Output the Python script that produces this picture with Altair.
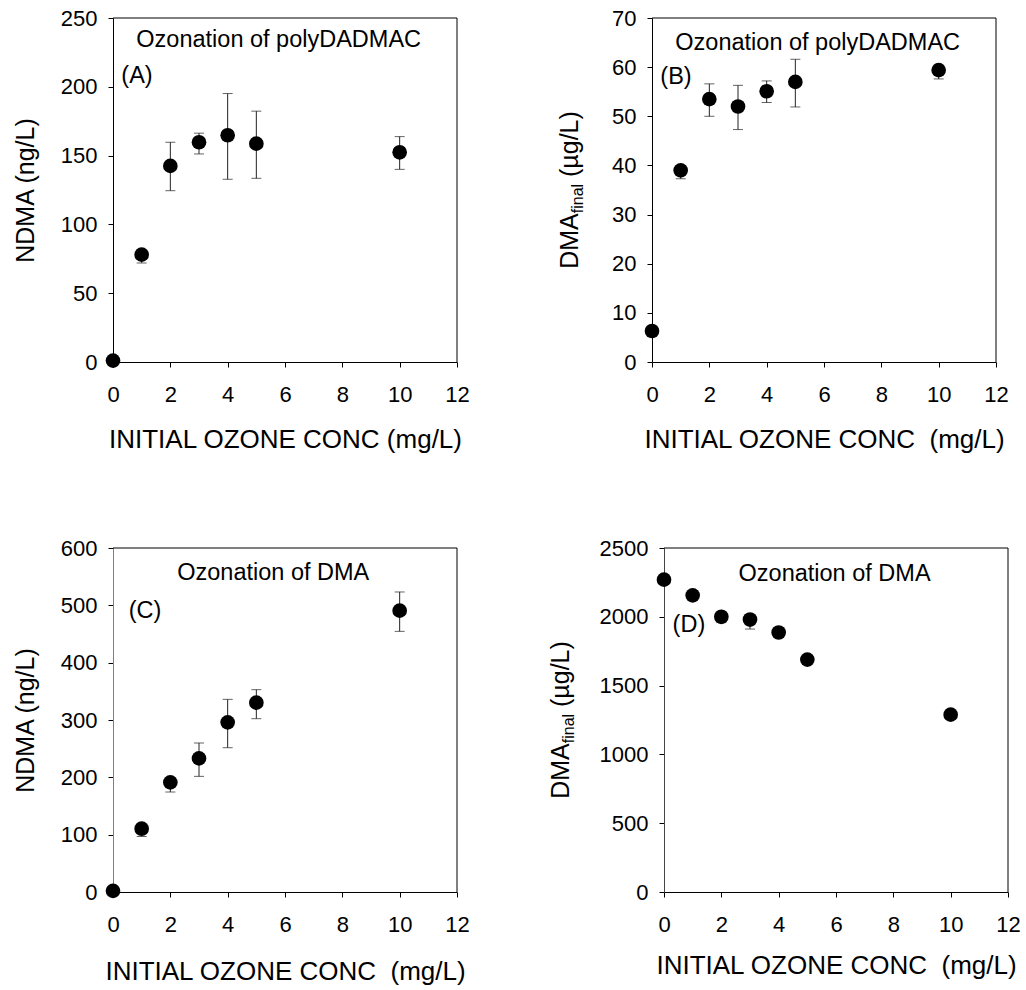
import altair as alt
import pandas as pd

FONT = "Liberation Sans"
W, H = 344, 344
ERR_COLOR = "#222222"

# Initial ozone dose (mg/L)
OZONE = [0, 1, 2, 3, 4, 5, 10]

# (A) NDMA formed during ozonation of polyDADMAC (ng/L)
A_MEAN = [1, 78, 142.5, 159.7, 164.8, 158.7, 152.4]
A_LOW = [None, 72, 124.5, 151.2, 132.8, 133.5, 140.0]
A_HIGH = [None, 80, 159.7, 166.3, 195.1, 182.3, 163.8]

# (B) DMA remaining after ozonation of polyDADMAC (ug/L)
B_MEAN = [6.3, 39.0, 53.5, 52.0, 55.1, 57.0, 59.4]
B_LOW = [None, 37.3, 50.0, 47.3, 52.8, 51.9, 57.6]
B_HIGH = [None, 40.0, 56.6, 56.3, 57.2, 61.6, 60.4]

# (C) NDMA formed during ozonation of DMA (ng/L)
C_MEAN = [2, 110.4, 191.2, 233.0, 295.9, 330.2, 490.7]
C_LOW = [None, 97, 174.4, 201.7, 251.7, 302.3, 454.6]
C_HIGH = [None, 115, 198.0, 259.9, 336.0, 352.9, 523.3]

# (D) DMA remaining after ozonation of DMA (ug/L)
D_MEAN = [2270, 2156, 2000, 1980, 1886, 1689, 1289]
D_LOW = [None, None, 1958, 1911, None, None, None]
D_HIGH = [None, None, 2030, 2000, None, None, None]

X_TICKS = [0, 2, 4, 6, 8, 10, 12]


def x_axis(title, title_y):
    return alt.Axis(
        values=X_TICKS, title=title, grid=False,
        tickSize=5, tickColor="black", domainColor="black",
        labelFont=FONT, labelFontSize=22, labelColor="black",
        labelPadding=17, labelFlush=False, labelOverlap=False,
        titleFont=FONT, titleFontSize=26, titleFontWeight="normal",
        titleColor="black", titleY=title_y, titleX=W / 2,
        titleBaseline="middle", titleAlign="center",
    )


def y_axis(values, title, domain_color):
    kw = dict(
        values=values, grid=False, format="d",
        tickSize=5, tickColor="black", domainColor=domain_color,
        labelFont=FONT, labelFontSize=22, labelColor="black",
        labelPadding=11, labelOverlap=False,
    )
    if title:
        kw.update(
            title=title, titleFont=FONT, titleFontSize=25,
            titleFontWeight="normal", titleColor="black",
            titleAngle=270, titleX=-88, titleY=H / 2,
            titleBaseline="middle", titleAlign="center",
        )
    else:
        kw.update(title=None)
    return alt.Axis(**kw)


def dma_final_title(center_x):
    """Rotated y title 'DMA' + subscript 'final' + '(µg/L)'."""
    base_x = center_x + 9
    big, small = 25, 16
    start = H / 2 + (2.222 * big + 1.834 * small + 2.91 * big) / 2
    parts = [
        ("DMA", big, base_x, start),
        ("final", small, base_x + 5, start - 2.222 * big),
        ("(µg/L)", big, base_x, start - 2.222 * big - 1.834 * small - 0.278 * big),
    ]
    layers = []
    for txt, fs, px, py in parts:
        layers.append(
            alt.Chart(pd.DataFrame({"t": [txt]}))
            .mark_text(font=FONT, fontSize=fs, color="black", angle=270,
                       align="left", baseline="alphabetic")
            .encode(x=alt.value(px), y=alt.value(py), text="t:N")
        )
    return layers


def panel(mean, low, high, y_max, y_step, y_title, x_title, title_y,
          note, note_xy, tag, tag_xy, domain_color="black", custom_title_x=None):
    pts = pd.DataFrame({"ozone": OZONE, "value": mean})
    err = pd.DataFrame({"ozone": OZONE, "low": low, "high": high}).dropna()
    caps = pd.concat([
        err[["ozone", "low"]].rename(columns={"low": "value"}),
        err[["ozone", "high"]].rename(columns={"high": "value"}),
    ])

    xs = alt.Scale(domain=[0, 12], nice=False, zero=True)
    ys = alt.Scale(domain=[0, y_max], nice=False, zero=True)
    xa = x_axis(x_title, title_y)
    ya = y_axis(list(range(0, y_max + 1, y_step)), y_title, domain_color)

    def X():
        return alt.X("ozone:Q", scale=xs, axis=xa)

    def Y(field):
        return alt.Y(f"{field}:Q", scale=ys, axis=ya)

    bars = alt.Chart(err).mark_rule(color=ERR_COLOR, strokeWidth=1).encode(
        x=X(), y=Y("low"), y2="high:Q")
    cap = alt.Chart(caps).mark_tick(
        orient="horizontal", size=10, thickness=1, color=ERR_COLOR
    ).encode(x=X(), y=Y("value"))
    dots = alt.Chart(pts).mark_circle(size=215, color="black", opacity=1).encode(
        x=X(), y=Y("value"))

    note_layer = alt.Chart(pd.DataFrame({
        "ozone": [note_xy[0]], "value": [note_xy[1]], "label": [note]
    })).mark_text(font=FONT, fontSize=23.5, color="black", align="center",
                  baseline="middle").encode(x=X(), y=Y("value"), text="label:N")
    tag_layer = alt.Chart(pd.DataFrame({
        "ozone": [tag_xy[0]], "value": [tag_xy[1]], "label": [tag]
    })).mark_text(font=FONT, fontSize=23.5, color="black", align="left",
                  baseline="middle").encode(x=X(), y=Y("value"), text="label:N")

    frame = pd.DataFrame({"k": [0]})
    top_edge = alt.Chart(frame).mark_rule(color="black", strokeWidth=1).encode(
        x=alt.value(0), x2=alt.value(W), y=alt.value(0))
    right_edge = alt.Chart(frame).mark_rule(color="black", strokeWidth=1).encode(
        x=alt.value(W), y=alt.value(0), y2=alt.value(H))

    layers = [top_edge, right_edge, bars, cap, dots, note_layer, tag_layer]
    if custom_title_x is not None:
        layers += dma_final_title(custom_title_x)
    return alt.layer(*layers).properties(width=W, height=H)


A = panel(A_MEAN, A_LOW, A_HIGH, 250, 50, "NDMA (ng/L)",
          "INITIAL OZONE CONC (mg/L)", 77,
          "Ozonation of polyDADMAC", (5.78, 234.2), "(A)", (0.29, 207.8))
B = panel(B_MEAN, B_LOW, B_HIGH, 70, 10, None,
          "INITIAL OZONE CONC\u00a0 (mg/L)", 77,
          "Ozonation of polyDADMAC", (5.78, 65.0), "(B)", (0.29, 58.05),
          custom_title_x=-83)
C = panel(C_MEAN, C_LOW, C_HIGH, 600, 100, "NDMA (ng/L)",
          "INITIAL OZONE CONC\u00a0 (mg/L)", 79,
          "Ozonation of DMA", (5.59, 556.4), "(C)", (0.55, 490.7),
          domain_color="#808080")
D = panel(D_MEAN, D_LOW, D_HIGH, 2500, 500, None,
          "INITIAL OZONE CONC\u00a0 (mg/L)", 73,
          "Ozonation of DMA", (5.95, 2311), "(D)", (0.30, 1940),
          domain_color="#444444", custom_title_x=-104)

top = alt.hconcat(A, B, spacing=195, bounds="flush")
bottom = alt.hconcat(C, D, spacing=207, bounds="flush")

chart = (
    alt.vconcat(top, bottom, spacing=85)
    .properties(padding={"left": 13, "top": 7, "right": 5, "bottom": 5},
                background="white")
    .configure_view(stroke=None)
)

chart.save("out.html", embed_options={"renderer": "svg", "actions": False})
